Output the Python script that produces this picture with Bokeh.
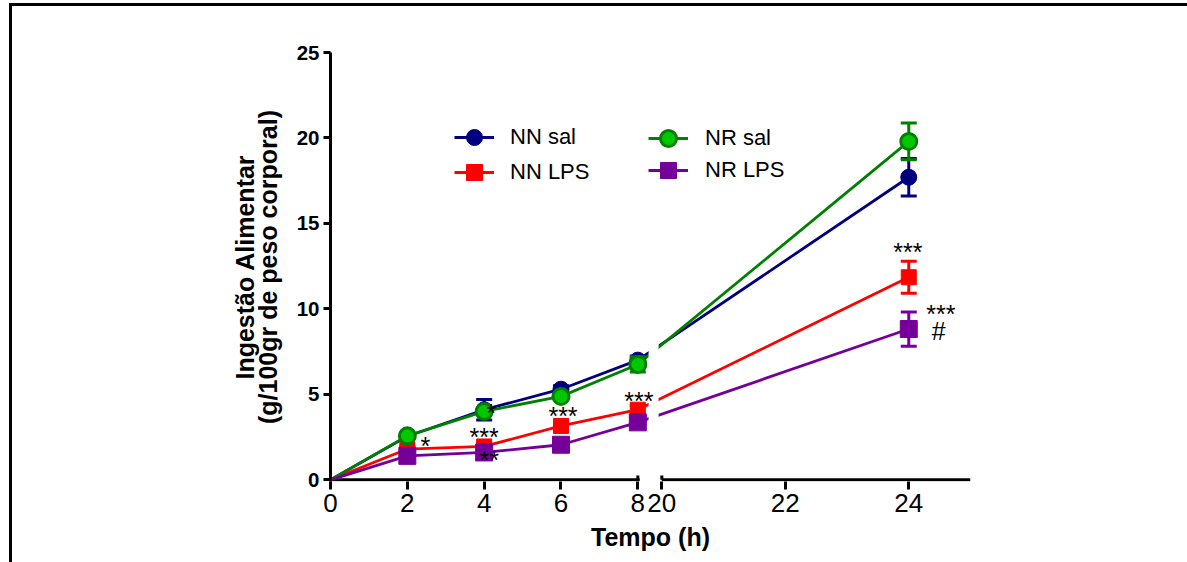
from bokeh.plotting import figure
from bokeh.models import (FixedTicker, Legend, LegendItem, Range1d, InlineStyleSheet,
                          LinearAxis)
from bokeh.core.properties import value
from bokeh.embed import file_html
from bokeh.resources import INLINE

# ---------------- data ----------------
times = [0, 2, 4, 6, 8, 24]
nn_sal = [0, 2.55, 4.10, 5.30, 7.00, 17.70]
nn_sal_err = [0, 0.15, 0.60, 0.20, 0.25, 1.10]
nn_lps = [0, 1.80, 1.95, 3.15, 4.10, 11.85]
nn_lps_err = [0, 0.15, 0.20, 0.20, 0.25, 0.93]
nr_sal = [0, 2.57, 4.00, 4.88, 6.75, 19.80]
nr_sal_err = [0, 0.15, 0.20, 0.20, 0.45, 1.07]
nr_lps = [0, 1.40, 1.60, 2.05, 3.36, 8.82]
nr_lps_err = [0, 0.15, 0.20, 0.20, 0.25, 1.00]

series_names = ["NN sal", "NN LPS", "NR sal", "NR LPS"]
x_ticks = [0, 2, 4, 6, 8, 20, 22, 24]
y_ticks = [0, 5, 10, 15, 20, 25]
y_label_lines = ["Ingestão Alimentar", "(g/100gr de peso corporal)"]
x_label = "Tempo (h)"

# significance marks: (text, series index, time index, dx px, dy px)
annotations = [
    ("*", 1, 1, 18, -3),
    ("*", 2, 2, 7, 2),
    ("***", 1, 2, 0, -9),
    ("**", 3, 2, 5, 8),
    ("***", 1, 3, 2, -10),
    ("***", 1, 4, 1, -9),
    ("***", 1, 5, -1, -25),
    ("***", 3, 5, 32, -15),
    ("#", 3, 5, 30, 2),
]

# ---------------- broken x-axis mapping ----------------
SEG1_END = 8.0      # end of first segment (h)
SEG2_START = 20.0   # start of second segment (h)
SEG2_END = 25.0
GAP = 0.625         # display units between segments
SCALE2 = 1.607      # display units per hour in 2nd segment


def brk(t):
    if t <= SEG1_END:
        return float(t)
    return SEG1_END + GAP + (t - SEG2_START) * SCALE2


X_END = brk(SEG2_END)

FONT = "Liberation Sans"
W, H = 1187, 562
FRAME_L, FRAME_T = 330, 52
FRAME_W, FRAME_H = 640, 429

p = figure(width=W, height=H, output_backend="svg", toolbar_location=None,
           x_range=Range1d(0, X_END), y_range=Range1d(-0.1, 25),
           min_border_left=FRAME_L, min_border_top=FRAME_T,
           min_border_right=W - FRAME_L - FRAME_W,
           min_border_bottom=H - FRAME_T - FRAME_H)
p.outline_line_color = None
p.grid.grid_line_color = None
p.background_fill_color = "white"
p.border_fill_color = "white"

# y axis
ya = p.yaxis[0]
ya.ticker = FixedTicker(ticks=y_ticks)
ya.minor_tick_line_color = None
ya.axis_line_width = 3
ya.major_tick_line_width = 3
ya.major_tick_out = 7
ya.major_tick_in = 0
ya.major_label_text_font = FONT
ya.major_label_text_font_style = "bold"
ya.major_label_text_font_size = "20.5px"
ya.major_label_text_color = "black"
ya.major_label_standoff = 4
ya.axis_label = y_label_lines[1]
ya.axis_label_text_font = FONT
ya.axis_label_text_font_style = "bold"
ya.axis_label_text_font_size = "25px"
ya.axis_label_text_color = "black"
ya.axis_label_standoff = 12

# outer (label-only) axis carrying the first line of the y label
ya2 = LinearAxis(axis_label=y_label_lines[0], ticker=FixedTicker(ticks=[]),
                 axis_line_color=None, major_tick_line_color=None,
                 minor_tick_line_color=None, major_label_text_font_size="0px",
                 major_label_standoff=0, axis_label_standoff=-8,
                 major_tick_out=0, major_tick_in=0,
                 axis_label_text_font=FONT, axis_label_text_font_style="bold",
                 axis_label_text_font_size="25px", axis_label_text_color="black")
p.add_layout(ya2, "left")

# x axis (line drawn manually to show the break)
xa = p.xaxis[0]
xa.ticker = FixedTicker(ticks=[brk(t) for t in x_ticks])
xa.major_label_overrides = {brk(t): str(t) for t in x_ticks}
xa.minor_tick_line_color = None
xa.axis_line_color = None
xa.major_tick_line_width = 3
xa.major_tick_out = 8
xa.major_tick_in = 0
xa.major_label_text_font = FONT
xa.major_label_text_font_size = "26px"
xa.major_label_text_color = "black"
xa.major_label_standoff = 4
xa.axis_label = x_label
xa.axis_label_text_font = FONT
xa.axis_label_text_font_style = "bold"
xa.axis_label_text_font_size = "25px"
xa.axis_label_text_color = "black"
xa.axis_label_standoff = 8

# broken axis line
p.segment(x0=[0, brk(SEG2_START)], y0=[0, 0], x1=[brk(SEG1_END) + 0.05, X_END],
          y1=[0, 0], line_color="black", line_width=3)
# inner tick marks at the break
p.segment(x0=[brk(SEG1_END), brk(SEG2_START)], y0=[0, 0],
          x1=[brk(SEG1_END), brk(SEG2_START)], y1=[0.25, 0.25],
          line_color="black", line_width=3)

colors_line = ["#00007f", "#ff0000", "#008000", "#750099"]
colors_fill = ["#00007f", "#ff0000", "#00c800", "#750099"]
markers = ["circle", "square", "circle", "square"]
sizes = [16, 15, 16, 17]
mlw = [1, 1, 3, 1]
vals = [nn_sal, nn_lps, nr_sal, nr_lps]
errs = [nn_sal_err, nn_lps_err, nr_sal_err, nr_lps_err]

xs = [brk(t) for t in times]

line_r = []
for i in range(4):
    line_r.append(p.line(xs, vals[i], line_color=colors_line[i], line_width=2.8))

# white gap in the lines at the axis break
p.quad(left=[brk(SEG1_END) + 0.28], right=[brk(SEG1_END) + 0.54],
       bottom=[0.4], top=[25], fill_color="white", line_color=None)

mark_r = []
for i in range(4):
    xe = xs[1:]
    lo = [v - e for v, e in zip(vals[i][1:], errs[i][1:])]
    hi = [v + e for v, e in zip(vals[i][1:], errs[i][1:])]
    p.segment(x0=xe, y0=lo, x1=xe, y1=hi, line_color=colors_line[i], line_width=3)
    p.scatter(xe + xe, lo + hi, marker="dash", size=16, line_width=3,
              line_color=colors_line[i])
    mark_r.append(p.scatter(xs[1:], vals[i][1:], marker=markers[i], size=sizes[i],
                            fill_color=colors_fill[i], line_color=colors_line[i],
                            line_width=mlw[i]))

# significance text
for txt, si, ti, dx, dy in annotations:
    p.text(x=[xs[ti]], y=[vals[si][ti]], text=[txt], x_offset=dx, y_offset=dy,
           text_align="center", text_baseline="middle",
           text_font=value(FONT), text_font_size="25px", text_color="black")


# legend: one single-item legend per entry (two columns)
GLYPH = 40
legend_slots = [  # (series index, x of glyph box left, y of row centre) in frame px
    (0, 124, 137 - FRAME_T),
    (1, 124, 172 - FRAME_T),
    (2, 318, 138 - FRAME_T),
    (3, 318, 170 - FRAME_T),
]
for si, lx, cy in legend_slots:
    lg = Legend(items=[LegendItem(label=series_names[si],
                                  renderers=[line_r[si], mark_r[si]])],
                location=(lx, FRAME_H - cy - GLYPH / 2), orientation="vertical",
                glyph_width=GLYPH, glyph_height=GLYPH, label_height=24,
                spacing=0, padding=0, margin=0,
                label_standoff=16 if si < 2 else 17,
                background_fill_alpha=0, border_line_color=None,
                label_text_font=FONT, label_text_font_size="22px",
                label_text_color="black")
    p.add_layout(lg)

# outer frame (top and left edges of the picture box)
p.stylesheets = [InlineStyleSheet(css=(
    ":host::after {content: ''; position: absolute; left: 9px; top: 3px; "
    "right: 0; bottom: 0; border-top: 3px solid black; "
    "border-left: 3px solid black; pointer-events: none; z-index: 100;}"))]

open("out.html", "w").write(file_html(p, INLINE))
